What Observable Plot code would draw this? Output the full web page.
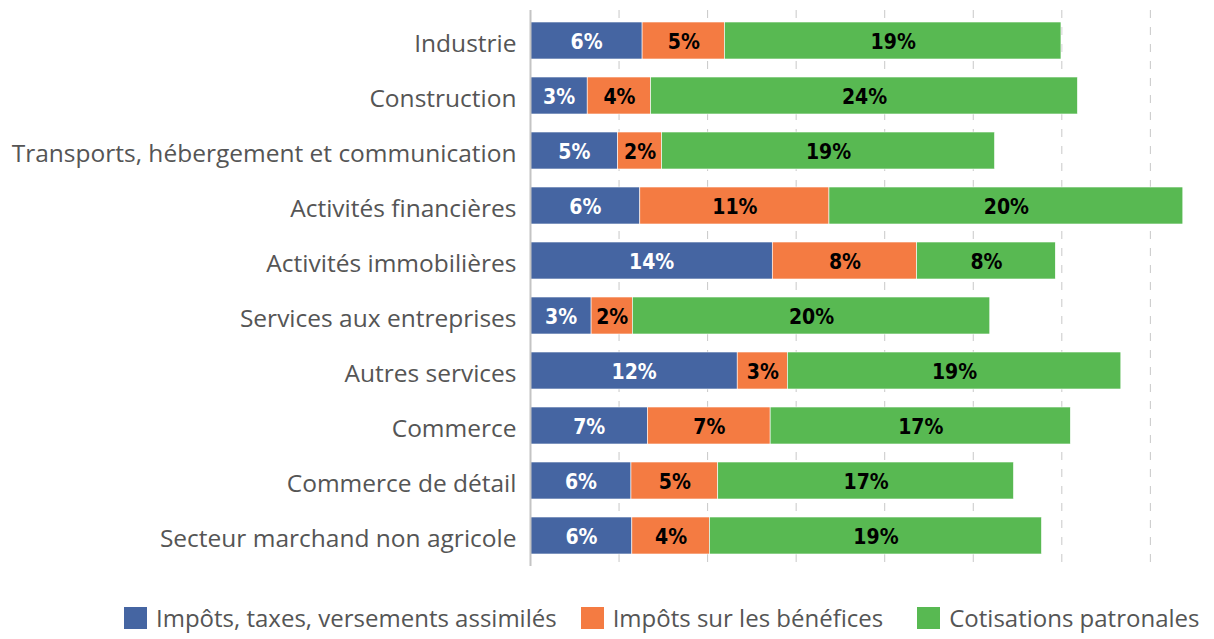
<!DOCTYPE html>
<html>
<head>
<meta charset="utf-8">
<script src="https://cdn.jsdelivr.net/npm/d3@7"></script>
<script src="https://cdn.jsdelivr.net/npm/@observablehq/plot@0.6"></script>
<style>
  html, body { margin: 0; padding: 0; background: #fff; overflow: hidden; }
  #chart { width: 1214px; }
  .legend { display: flex; align-items: center; padding-left: 124px; margin-top: 11px;
    font-family: "Open Sans", sans-serif; font-size: 24px; line-height: 30px; color: #555; white-space: nowrap; }
  .legend .item { display: flex; align-items: center; margin-right: 24px; }
  .legend .item:nth-child(2) { margin-right: 34px; }
  .legend .sw { width: 23px; height: 22px; margin-right: 9px; }
</style>
</head>
<body>
<div id="chart"></div>
<script>
const sectors = [
  "Industrie",
  "Construction",
  "Transports, hébergement et communication",
  "Activités financières",
  "Activités immobilières",
  "Services aux entreprises",
  "Autres services",
  "Commerce",
  "Commerce de détail",
  "Secteur marchand non agricole"
];
const types = ["Impôts, taxes, versements assimilés", "Impôts sur les bénéfices", "Cotisations patronales"];
const colors = ["#4565a2", "#f47b42", "#58b952"];
const impots =      [6.33, 3.23, 4.95, 6.2, 13.68, 3.45, 11.7, 6.63, 5.7, 5.75];
const benefices =   [4.65, 3.58, 2.48, 10.68, 8.15, 2.33, 2.83, 6.93, 4.9, 4.38];
const cotisations = [19.0, 24.1, 18.8, 19.98, 7.83, 20.18, 18.83, 16.95, 16.7, 18.75];
const gridTicks = [5, 10, 15, 20, 25, 30, 35];

const series = [impots, benefices, cotisations];
const data = [];
sectors.forEach((s, i) => types.forEach((t, j) => data.push({sector: s, type: t, value: series[j][i]})));

const chart = Plot.plot({
  width: 1214,
  height: 592,
  marginLeft: 530,
  marginRight: 11,
  marginTop: 10,
  marginBottom: 26,
  style: {fontFamily: "Open Sans, sans-serif", background: "white"},
  x: {domain: [0, 38], axis: null},
  y: {domain: sectors, paddingInner: 0.32, paddingOuter: 0.19, label: null},
  color: {domain: types, range: colors},
  marks: [
    Plot.gridX(gridTicks, {stroke: "#c8c8c8", strokeOpacity: 1, strokeDasharray: "8,9", strokeWidth: 1}),
    Plot.barX(data, Plot.stackX({x: "value", y: "sector", fill: "type", stroke: "white", strokeWidth: 0.6})),
    Plot.ruleX([0], {stroke: "#c4c4c4", strokeWidth: 2}),
    Plot.axisY({tickSize: 0, tickPadding: 14, fontSize: 24.5, fill: "#555", label: null, dy: 3}),
    Plot.text(data, Plot.stackX({
      x: "value", y: "sector", z: "type",
      text: d => Math.round(d.value) + "%",
      fill: d => d.type === types[0] ? "white" : "black",
      fontSize: 21, fontWeight: "bold",
      fontFamily: "DejaVu Sans Condensed, DejaVu Sans, sans-serif",
      dy: 1
    }))
  ]
});
document.getElementById("chart").appendChild(chart);

const legend = document.createElement("div");
legend.className = "legend";
types.forEach((t, i) => {
  const item = document.createElement("div");
  item.className = "item";
  const sw = document.createElement("span");
  sw.className = "sw";
  sw.style.background = colors[i];
  const lab = document.createElement("span");
  lab.textContent = t;
  item.appendChild(sw);
  item.appendChild(lab);
  legend.appendChild(item);
});
document.getElementById("chart").appendChild(legend);
</script>
</body>
</html>
